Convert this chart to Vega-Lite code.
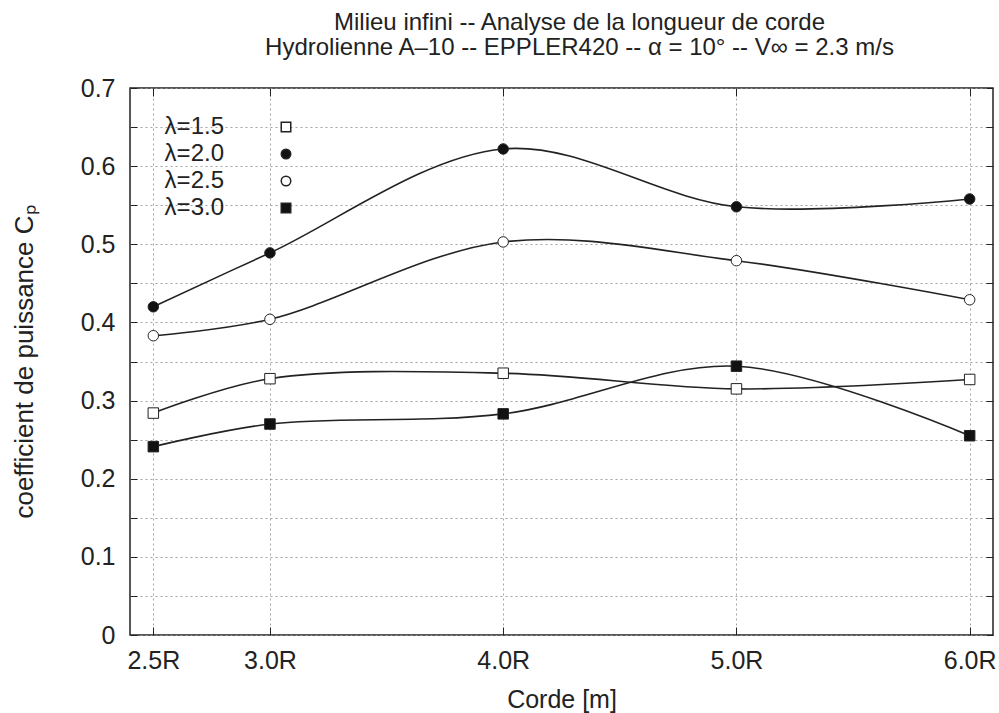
{
  "$schema": "https://vega.github.io/schema/vega-lite/v6.json",
  "width": 863,
  "height": 547,
  "autosize": {"type": "none"},
  "padding": {"left": 130, "top": 88, "right": 6, "bottom": 78},
  "background": "white",
  "config": {
    "font": "Liberation Sans",
    "view": {"stroke": "#222", "strokeWidth": 1.5},
    "axis": {
      "gridDash": [2, 3],
      "gridColor": "#999",
      "gridWidth": 0.9,
      "domain": false,
      "tickColor": "#222",
      "labelColor": "#222",
      "titleColor": "#222",
      "labelFont": "Liberation Sans",
      "titleFont": "Liberation Sans",
      "titleFontWeight": "normal"
    }
  },
  "title": {
    "text": ["Milieu infini -- Analyse de la longueur de corde", "Hydrolienne A–10 -- EPPLER420 -- α = 10° -- V∞ = 2.3 m/s"],
    "fontSize": 24,
    "fontWeight": "normal",
    "font": "Liberation Sans",
    "color": "#222",
    "anchor": "middle",
    "offset": 16,
    "lineHeight": 25,
    "dx": 18
  },
  "data": {
    "values": [
      {"corde": 2.5, "cp": 0.284, "lambda": "λ=1.5"},
      {"corde": 3.0, "cp": 0.328, "lambda": "λ=1.5"},
      {"corde": 4.0, "cp": 0.335, "lambda": "λ=1.5"},
      {"corde": 5.0, "cp": 0.315, "lambda": "λ=1.5"},
      {"corde": 6.0, "cp": 0.327, "lambda": "λ=1.5"},
      {"corde": 2.5, "cp": 0.420, "lambda": "λ=2.0"},
      {"corde": 3.0, "cp": 0.489, "lambda": "λ=2.0"},
      {"corde": 4.0, "cp": 0.622, "lambda": "λ=2.0"},
      {"corde": 5.0, "cp": 0.548, "lambda": "λ=2.0"},
      {"corde": 6.0, "cp": 0.558, "lambda": "λ=2.0"},
      {"corde": 2.5, "cp": 0.383, "lambda": "λ=2.5"},
      {"corde": 3.0, "cp": 0.404, "lambda": "λ=2.5"},
      {"corde": 4.0, "cp": 0.503, "lambda": "λ=2.5"},
      {"corde": 5.0, "cp": 0.479, "lambda": "λ=2.5"},
      {"corde": 6.0, "cp": 0.429, "lambda": "λ=2.5"},
      {"corde": 2.5, "cp": 0.241, "lambda": "λ=3.0"},
      {"corde": 3.0, "cp": 0.270, "lambda": "λ=3.0"},
      {"corde": 4.0, "cp": 0.283, "lambda": "λ=3.0"},
      {"corde": 5.0, "cp": 0.344, "lambda": "λ=3.0"},
      {"corde": 6.0, "cp": 0.255, "lambda": "λ=3.0"}
    ]
  },
  "layer": [
    {
      "mark": {"type": "line", "interpolate": "catmull-rom", "color": "#222", "strokeWidth": 1.6},
      "encoding": {
        "x": {
          "field": "corde",
          "type": "quantitative",
          "scale": {"domain": [2.4, 6.1], "nice": false, "zero": false},
          "axis": {
            "orient": "bottom",
            "values": [2.5, 3, 4, 5, 6],
            "labelExpr": "format(datum.value, '.1f') + 'R'",
            "labelFontSize": 25,
            "labelPadding": 21,
            "tickSize": -8,
            "grid": true,
            "title": "Corde [m]",
            "titleFontSize": 25,
            "titlePadding": 14
          }
        },
        "y": {
          "field": "cp",
          "type": "quantitative",
          "scale": {"domain": [0, 0.7], "nice": false, "zero": true},
          "axis": {
            "orient": "left",
            "values": [0, 0.05, 0.1, 0.15, 0.2, 0.25, 0.3, 0.35, 0.4, 0.45, 0.5, 0.55, 0.6, 0.65, 0.7],
            "labelExpr": "round(datum.value * 100) % 10 == 0 ? format(datum.value, '.1~f') : ''",
            "labelFontSize": 25,
            "labelPadding": 22,
            "tickSize": -7,
            "grid": true,
            "title": "coefficient de puissance Cₚ",
            "titleFontSize": 26,
            "titlePadding": 43
          }
        },
        "detail": {"field": "lambda", "type": "nominal"}
      }
    },
    {
      "mark": {"type": "point", "filled": true, "stroke": "#222", "strokeWidth": 1, "opacity": 1, "size": 110},
      "encoding": {
        "x": {
          "field": "corde",
          "type": "quantitative",
          "axis": {"orient": "top", "values": [2.5, 3, 4, 5, 6], "labels": false, "grid": false, "tickSize": -8, "title": null}
        },
        "y": {
          "field": "cp",
          "type": "quantitative",
          "axis": {
            "orient": "right",
            "values": [0, 0.05, 0.1, 0.15, 0.2, 0.25, 0.3, 0.35, 0.4, 0.45, 0.5, 0.55, 0.6, 0.65, 0.7],
            "labels": false,
            "grid": false,
            "tickSize": -7,
            "title": null
          }
        },
        "shape": {
          "field": "lambda",
          "type": "nominal",
          "scale": {"domain": ["λ=1.5", "λ=2.0", "λ=2.5", "λ=3.0"], "range": ["square", "circle", "circle", "square"]},
          "legend": {
            "orient": "none",
            "legendX": 144,
            "legendY": 27,
            "title": null,
            "padding": 0,
            "labelFontSize": 24,
            "labelColor": "#222",
            "labelAlign": "right",
            "labelOffset": -74,
            "symbolSize": 90,
            "rowPadding": 3,
            "encode": {"symbols": {"update": {"stroke": {"value": "#222"}, "strokeWidth": {"value": 1}}}}
          }
        },
        "fill": {
          "field": "lambda",
          "type": "nominal",
          "scale": {"domain": ["λ=1.5", "λ=2.0", "λ=2.5", "λ=3.0"], "range": ["white", "#111", "white", "#111"]},
          "legend": {
            "orient": "none",
            "legendX": 144,
            "legendY": 27,
            "title": null,
            "padding": 0,
            "labelFontSize": 24,
            "labelColor": "#222",
            "labelAlign": "right",
            "labelOffset": -74,
            "symbolSize": 90,
            "rowPadding": 3,
            "encode": {"symbols": {"update": {"stroke": {"value": "#222"}, "strokeWidth": {"value": 1}}}}
          }
        }
      }
    }
  ],
  "resolve": {"axis": {"x": "independent", "y": "independent"}}
}
